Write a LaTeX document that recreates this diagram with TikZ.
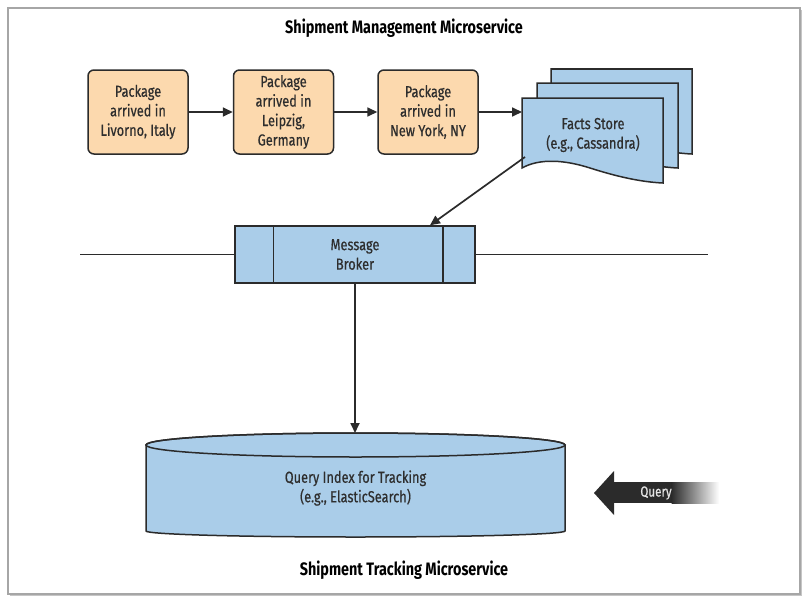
\documentclass[tikz,border=0pt]{standalone}
\usepackage{fontspec}
\setmainfont{Fira Sans}[FakeStretch=0.8]
\newfontfamily\bodyfont{Fira Sans}[FakeStretch=0.8, FakeBold=0.5]
\usetikzlibrary{arrows.meta,calc}
\definecolor{pkg}{HTML}{FCD9AE}
\definecolor{blu}{HTML}{AACDE9}
\definecolor{ink}{HTML}{2B2B2B}
\definecolor{txt}{HTML}{2E2E2E}
\begin{document}
\begin{tikzpicture}[x=1pt,y=-1pt,
  every node/.style={text=txt, align=center, font=\bodyfont\fontsize{16}{19.5}\selectfont},
  pkgbox/.style={draw=ink, line width=1.5pt, fill=pkg, rounded corners=6pt, minimum width=100pt, minimum height=84pt, inner sep=1pt},
  blubox/.style={draw=ink, line width=1.5pt, fill=blu},
  conn/.style={draw=ink, line width=1.7pt},
  arr/.style={conn, -{Triangle[length=10pt,width=9pt]}},
  titlefont/.style={font=\bfseries\fontsize{18}{20}\selectfont, text=black}
]
\useasboundingbox (0,0) rectangle (808,602);
% frame
\fill[gray!45] (10,10) rectangle (802,596);
\draw[gray!70, line width=1.2pt, fill=white] (8,8) rectangle (800,594);

\node[titlefont] (t1) at (404,28) {Shipment Management Microservice};
\node[titlefont] (t2) at (404,570) {Shipment Tracking Microservice};

% packages
\node[pkgbox] (p1) at (138,112) {Package\\arrived in\\Livorno, Italy};
\node[pkgbox] (p2) at (283.5,112) {Package\\arrived in\\Leipzig,\\Germany};
\node[pkgbox] (p3) at (428,112) {Package\\arrived in\\New York, NY};

% facts store stack
\foreach \dx/\dy in {29/-29,15/-15,0/0}{
  \path[blubox] ($(522,98)+(\dx,\dy)$) -- ($(663,98)+(\dx,\dy)$) -- ($(663,183)+(\dx,\dy)$)
     .. controls ($(640,182)+(\dx,\dy)$) and ($(615,176)+(\dx,\dy)$) .. ($(590,168)+(\dx,\dy)$)
     .. controls ($(565,160)+(\dx,\dy)$) and ($(540,158)+(\dx,\dy)$) .. ($(522,168)+(\dx,\dy)$) -- cycle;
}
\node (fs) at (593,135) {Facts Store\\(e.g., Cassandra)};
\coordinate (fsW) at (522,112);
\coordinate (fsSW) at (525,157);

\draw[arr] (p1) -- (p2);
\draw[arr] (p2) -- (p3);
\draw[arr] (p3.east) -- (fsW);

% message broker
\node[blubox, minimum width=240pt, minimum height=57pt, inner sep=0pt] (mb) at (355,254.5) {Message\\Broker};
\draw[ink, line width=1.5pt] ($(mb.north west)+(39,0)$) -- ($(mb.south west)+(39,0)$);
\draw[ink, line width=1.5pt] ($(mb.north east)+(-33,0)$) -- ($(mb.south east)+(-33,0)$);
\coordinate (busL) at (80,254.5);
\coordinate (busR) at (708,254.5);
\draw[conn] (mb.west) -- (busL);
\draw[conn] (mb.east) -- (busR);
\coordinate (mbIn) at ($(mb.north)+(75,0)$);
\draw[arr] (fsSW) -- (mbIn);

% cylinder
\path[blubox] (146,445) -- (146,531) arc[start angle=180, end angle=0, x radius=209.5, y radius=6]
   -- (565,445) arc[start angle=0, end angle=-180, x radius=209.5, y radius=12] -- cycle;
\draw[ink, line width=1.5pt] (355.5,445) ellipse[x radius=209.5, y radius=12];
\node (qi) at (355.5,488) {Query Index for Tracking\\(e.g., ElasticSearch)};
\coordinate (cylTop) at (355,433);
\draw[arr] (mb.south) -- (cylTop);

% query arrow
\fill[ink] (612,482) rectangle (672,503);
\shade[left color=ink, right color=white] (671.5,482) rectangle (719,503);
\fill[ink] (594,493) -- (614,471) -- (614,515) -- cycle;
\node[text=white!80!gray, font=\bodyfont\fontsize{14.5}{16}\selectfont, inner sep=0pt] (q) at (656,493) {Query};
\end{tikzpicture}
\end{document}
